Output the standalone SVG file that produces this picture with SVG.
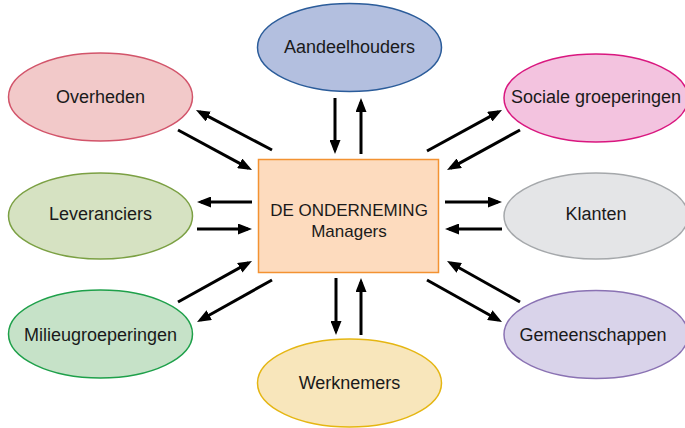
<svg xmlns="http://www.w3.org/2000/svg" width="685" height="428" viewBox="0 0 685 428">
<defs>
<style>
.lbl{font-family:"Liberation Sans",Arial,sans-serif;font-size:18px;fill:#1a1a1a;text-anchor:middle}
.box{font-family:"Liberation Sans",Arial,sans-serif;font-size:17px;fill:#1a1a1a;text-anchor:middle}
.ell{stroke-width:1.5}
.arr{stroke:#000;stroke-width:3;fill:none;marker-end:url(#ah)}
</style>
<marker id="ah" markerUnits="userSpaceOnUse" markerWidth="14" markerHeight="11" refX="10" refY="5.5" orient="auto">
<path d="M0,0 L14,5.5 L0,11 z" fill="#000"/>
</marker>
</defs>
<rect width="685" height="428" fill="#fff"/>
<g id="connectors">
<line class="arr" x1="335" y1="98" x2="335" y2="150"/>
<line class="arr" x1="361" y1="154" x2="361" y2="102"/>
<line class="arr" x1="336" y1="278" x2="336" y2="331"/>
<line class="arr" x1="361" y1="335" x2="361" y2="282"/>
<line class="arr" x1="252" y1="202" x2="201" y2="202"/>
<line class="arr" x1="197" y1="229" x2="248" y2="229"/>
<line class="arr" x1="445" y1="202" x2="498" y2="202"/>
<line class="arr" x1="502" y1="229" x2="449" y2="229"/>
<line class="arr" x1="272" y1="150" x2="199.5" y2="111.9"/>
<line class="arr" x1="178" y1="130" x2="248.5" y2="168.1"/>
<line class="arr" x1="427" y1="151" x2="498.5" y2="111.9"/>
<line class="arr" x1="520" y1="130" x2="450.5" y2="168.1"/>
<line class="arr" x1="178" y1="302" x2="248.5" y2="262.9"/>
<line class="arr" x1="272" y1="280" x2="200.5" y2="320"/>
<line class="arr" x1="520" y1="302" x2="450.5" y2="263"/>
<line class="arr" x1="427" y1="280" x2="498.5" y2="320"/>
</g>
<g id="onderneming">
<rect x="258.5" y="159.5" width="180" height="113" fill="#FDDBBE" stroke="#F39232" stroke-width="1.5"/>
<text class="box" x="349" y="216">DE ONDERNEMING</text>
<text class="box" x="349" y="237">Managers</text>
</g>
<g id="aandeelhouders">
<ellipse class="ell" cx="349.5" cy="47.5" rx="92" ry="44" fill="#B3BFDF" stroke="#2B5C9A"/>
<text class="lbl" x="349.5" y="53">Aandeelhouders</text>
</g>
<g id="overheden">
<ellipse class="ell" cx="100.5" cy="97" rx="92" ry="44" fill="#F2C9C9" stroke="#D2546A"/>
<text class="lbl" x="100.5" y="103">Overheden</text>
</g>
<g id="sociale">
<ellipse class="ell" cx="596" cy="98" rx="92" ry="44" fill="#F3C3DF" stroke="#D9177F"/>
<text class="lbl" x="596" y="103">Sociale groeperingen</text>
</g>
<g id="leveranciers">
<ellipse class="ell" cx="100.5" cy="216" rx="92" ry="43" fill="#D6E2C2" stroke="#7BA043"/>
<text class="lbl" x="100.5" y="220">Leveranciers</text>
</g>
<g id="klanten">
<ellipse class="ell" cx="596" cy="216" rx="92" ry="43" fill="#E4E5E7" stroke="#A5A8AB"/>
<text class="lbl" x="596" y="220">Klanten</text>
</g>
<g id="milieu">
<ellipse class="ell" cx="100.5" cy="334" rx="92" ry="44" fill="#C6E2C8" stroke="#1EA04A"/>
<text class="lbl" x="100.5" y="341">Milieugroeperingen</text>
</g>
<g id="gemeenschappen">
<ellipse class="ell" cx="596" cy="334.5" rx="92" ry="44" fill="#D9D3EA" stroke="#8A72B3"/>
<text class="lbl" x="593" y="341">Gemeenschappen</text>
</g>
<g id="werknemers">
<ellipse class="ell" cx="349.5" cy="383" rx="92" ry="44" fill="#F8E6BB" stroke="#E5B612"/>
<text class="lbl" x="349.5" y="389">Werknemers</text>
</g>
</svg>
